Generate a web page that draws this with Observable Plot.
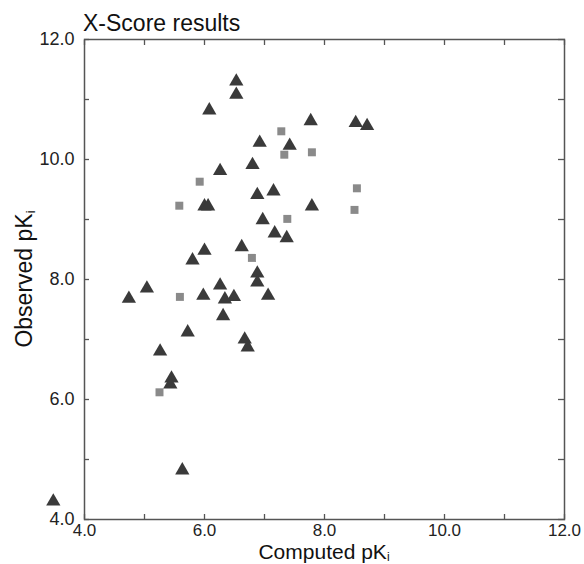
<!DOCTYPE html>
<html><head><meta charset="utf-8">
<script src="https://cdn.jsdelivr.net/npm/d3@7"></script>
<script src="https://cdn.jsdelivr.net/npm/@observablehq/plot@0.6"></script>
<style>body{margin:0;background:#fff;} svg{display:block}</style>
</head><body><div id="chart"></div>
<script>
const titleText = "X-Score results";
const xLabelMain = "Computed pK";
const yLabelMain = "Observed pK";
const labelSub = "i";
const xTickValues = [4, 6, 8, 10, 12];
const yTickValues = [4, 6, 8, 10, 12];
const minorTicks = [4, 5, 6, 7, 8, 9, 10, 11, 12];

// Triangles (dark)
const triComputed = [6.53, 6.53, 6.08, 7.77, 8.52, 8.71, 6.92, 7.42, 6.80, 6.26,
  6.88, 7.15, 6.00, 6.06, 7.79, 6.97, 7.17, 7.37, 6.62, 6.00,
  5.80, 6.88, 6.88, 6.26, 5.04, 5.98, 7.06, 6.49, 4.74, 6.34,
  6.31, 5.72, 6.67, 6.72, 5.26, 5.45, 5.43, 5.63, 3.48];
const triObserved = [11.30, 11.08, 10.82, 10.64, 10.61, 10.56, 10.28, 10.23, 9.91, 9.81,
  9.41, 9.47, 9.22, 9.22, 9.22, 8.99, 8.77, 8.69, 8.54, 8.48,
  8.32, 8.10, 7.95, 7.90, 7.85, 7.73, 7.73, 7.71, 7.68, 7.67,
  7.39, 7.12, 7.00, 6.87, 6.80, 6.35, 6.25, 4.82, 4.30];

// Squares (light gray)
const sqComputed = [7.28, 7.79, 7.33, 5.92, 8.54, 5.58, 8.50, 7.38, 6.79, 5.59, 5.25];
const sqObserved = [10.47, 10.12, 10.08, 9.63, 9.52, 9.23, 9.16, 9.01, 8.36, 7.71, 6.12];

const tri = triComputed.map((x, i) => ({x, y: triObserved[i]}));
const sq = sqComputed.map((x, i) => ({x, y: sqObserved[i]}));

const font = "'Liberation Sans', Arial, sans-serif";
const axisColor = "#555";

const plot = Plot.plot({
  width: 584, height: 564,
  marginLeft: 84, marginRight: 20, marginTop: 39, marginBottom: 45,
  x: {domain: [4, 12]},
  y: {domain: [4, 12]},
  style: {fontFamily: font, background: "white", color: "#222"},
  marks: [
    Plot.axisX(minorTicks, {anchor: "bottom", tickSize: -5, fill: "none", stroke: axisColor, strokeWidth: 1.3, label: null}),
    Plot.axisX(minorTicks, {anchor: "top", tickSize: -5, fill: "none", stroke: axisColor, strokeWidth: 1.3, label: null}),
    Plot.axisY(minorTicks, {anchor: "left", tickSize: -5, fill: "none", stroke: axisColor, strokeWidth: 1.3, label: null}),
    Plot.axisY(minorTicks, {anchor: "right", tickSize: -7, fill: "none", stroke: axisColor, strokeWidth: 1.3, label: null}),
    Plot.axisX(xTickValues, {anchor: "bottom", tickSize: 0, tickPadding: 4, fontSize: 17, tickFormat: d3.format(".1f"), fill: "#222", label: null}),
    Plot.axisY(yTickValues, {anchor: "left", tickSize: 0, tickPadding: 10, fontSize: 18, tickFormat: d3.format(".1f"), fill: "#222", label: null}),
    Plot.frame({stroke: axisColor, strokeWidth: 1.5}),
    Plot.dot(sq, {x: "x", y: "y", symbol: "square", r: 4.5, fill: "#8a8a8a", stroke: "none"}),
    Plot.dot(tri, {x: "x", y: "y", symbol: "triangle", r: 5.3, fill: "#3a3a3a", stroke: "none"})
  ]
});

const svg = d3.select(plot);
svg.append("text")
  .attr("x", 83).attr("y", 31).attr("text-anchor", "start")
  .attr("font-family", font).attr("font-size", 23).attr("fill", "#111")
  .text(titleText);

const xl = svg.append("text")
  .attr("x", 324).attr("y", 559).attr("text-anchor", "middle")
  .attr("font-family", font).attr("font-size", 21).attr("fill", "#111");
xl.append("tspan").text(xLabelMain);
xl.append("tspan").attr("font-size", 12).attr("dy", 2).text(labelSub);

const yl = svg.append("text")
  .attr("transform", "translate(32,279) rotate(-90)").attr("text-anchor", "middle")
  .attr("font-family", font).attr("font-size", 23).attr("fill", "#111");
yl.append("tspan").text(yLabelMain);
yl.append("tspan").attr("font-size", 13).attr("dy", 3).text(labelSub);

document.getElementById("chart").appendChild(plot);
</script>
</body></html>
